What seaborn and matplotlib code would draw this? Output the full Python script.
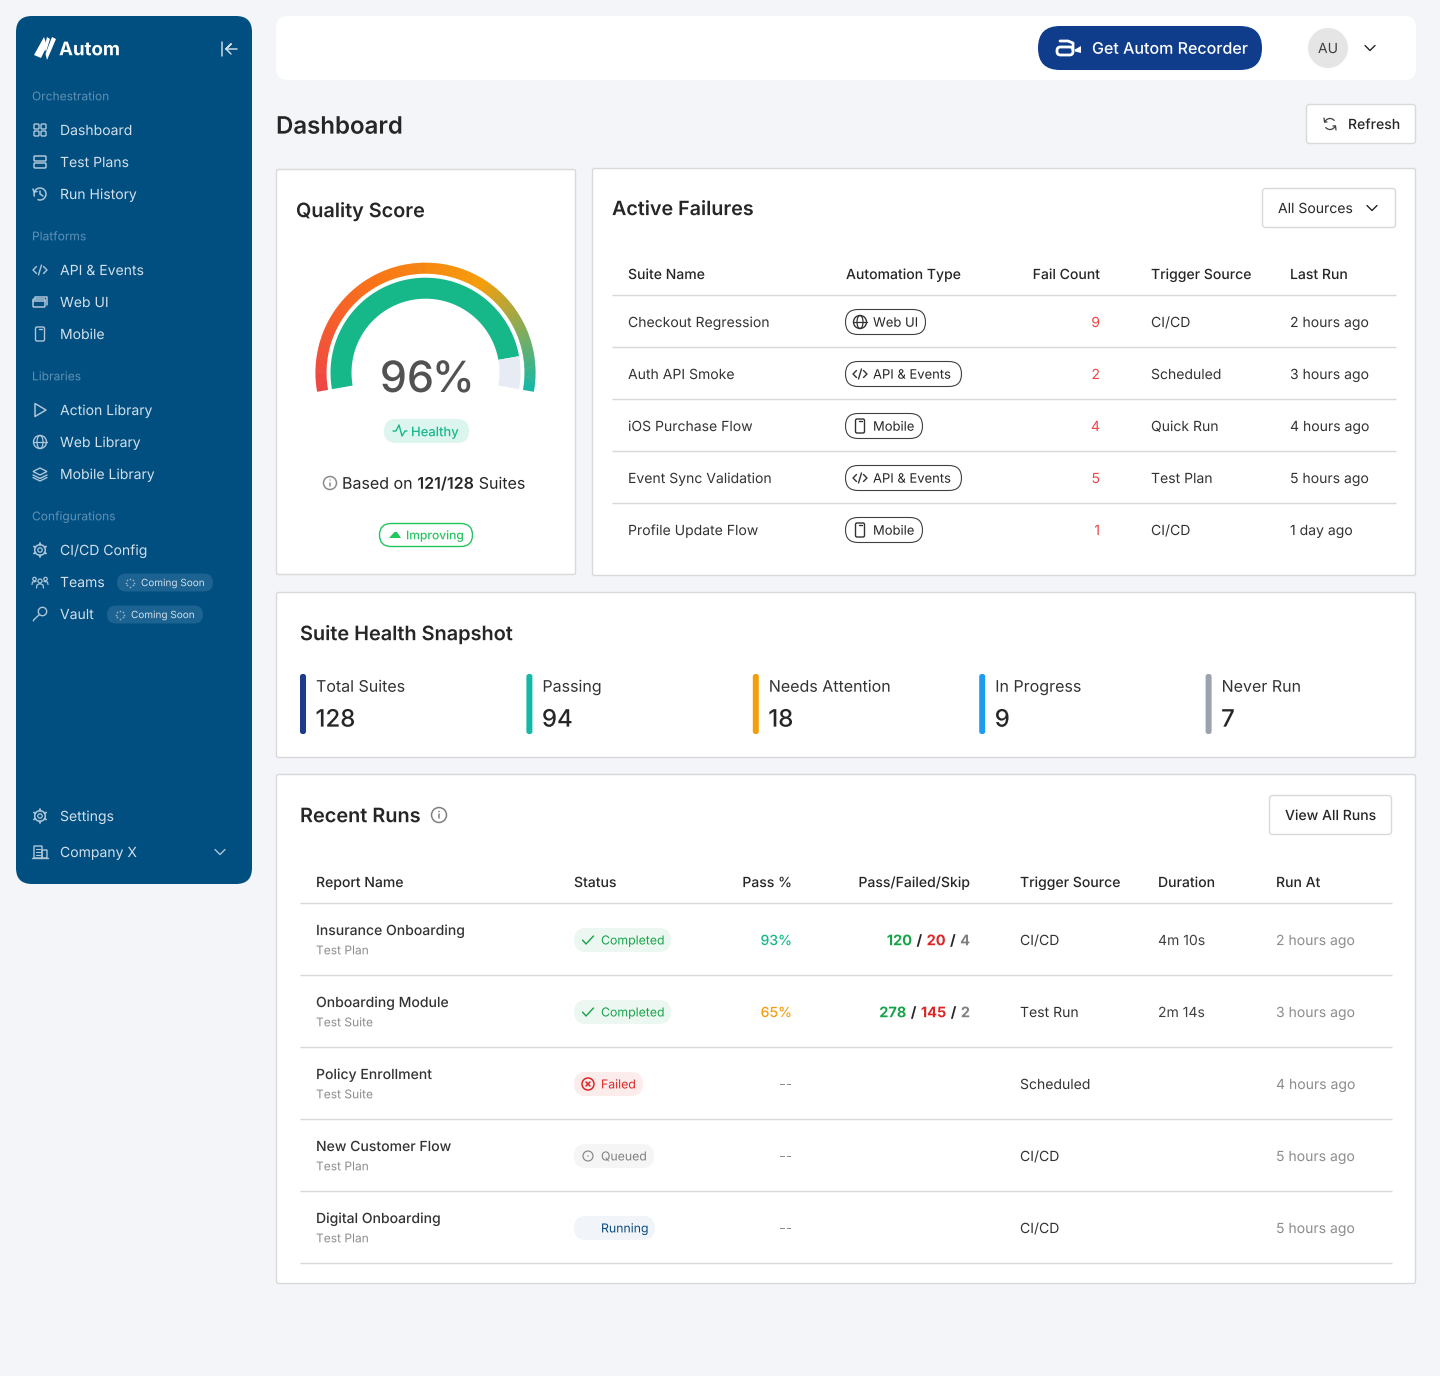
"""
Autom dashboard screenshot rebuilt on a single pixel-scaled axes
"""
import numpy as np
import matplotlib
matplotlib.use('Agg')
import matplotlib.pyplot as plt
import matplotlib.patheffects as pe
import seaborn as sns
from matplotlib.patches import FancyBboxPatch, Circle, Ellipse, Polygon

sns.set_theme(style='white')
plt.rcParams['font.family'] = ['Inter', 'DejaVu Sans']
plt.rcParams['text.hinting'] = 'none'
plt.rcParams['text.hinting_factor'] = 1

# Sidebar
nav_groups = ['Orchestration', 'Platforms', 'Libraries', 'Configurations']
nav_items = [['Dashboard', 'Test Plans', 'Run History'],
             ['API & Events', 'Web UI', 'Mobile'],
             ['Action Library', 'Web Library', 'Mobile Library'],
             ['CI/CD Config', 'Teams', 'Vault']]
nav_icons = [['grid', 'server', 'history'],
             ['code', 'browser', 'phone'],
             ['play', 'globe', 'layers'],
             ['gear', 'team', 'key']]

# Quality score
score = 96
gauge_fill = 0.90
gauge_colors = ['#ef4444', '#f97316', '#f59e0b', '#14b8a6']

# Active failures
fail_suites = ['Checkout Regression', 'Auth API Smoke', 'iOS Purchase Flow',
               'Event Sync Validation', 'Profile Update Flow']
fail_types = ['Web UI', 'API & Events', 'Mobile', 'API & Events', 'Mobile']
fail_counts = [9, 2, 4, 5, 1]
fail_sources = ['CI/CD', 'Scheduled', 'Quick Run', 'Test Plan', 'CI/CD']
fail_last = ['2 hours ago', '3 hours ago', '4 hours ago', '5 hours ago', '1 day ago']

# Suite health
health_labels = ['Total Suites', 'Passing', 'Needs Attention', 'In Progress', 'Never Run']
health_values = [128, 94, 18, 9, 7]
health_colors = ['#1e3a8a', '#14b8a6', '#f59e0b', '#1e9bf0', '#9ca3af']

# Recent runs
run_names = ['Insurance Onboarding', 'Onboarding Module', 'Policy Enrollment',
             'New Customer Flow', 'Digital Onboarding']
run_kinds = ['Test Plan', 'Test Suite', 'Test Suite', 'Test Plan', 'Test Plan']
run_status = ['Completed', 'Completed', 'Failed', 'Queued', 'Running']
run_pass = [93, 65, None, None, None]
run_counts = [(120, 20, 4), (278, 145, 2), None, None, None]
run_sources = ['CI/CD', 'Test Run', 'Scheduled', 'CI/CD', 'CI/CD']
run_durations = ['4m 10s', '2m 14s', '', '', '']
run_times = ['2 hours ago', '3 hours ago', '4 hours ago', '5 hours ago', '5 hours ago']

BG = '#f3f5f9'
NAVY = '#014e80'
INK = '#262626'
BORDER = '#d9d9d9'
PX = 0.72  # css px to points at dpi 100

fig = plt.figure(figsize=(14.4, 13.76), dpi=100, facecolor=BG)
ax = fig.add_axes([0, 0, 1, 1])
ax.set_xlim(0, 1440)
ax.set_ylim(1376, 0)
ax.axis('off')


def box(x0, y0, x1, y1, r=4, fc='white', ec='none', lw=1.0, z=1):
    ax.add_patch(FancyBboxPatch((x0, y0), x1 - x0, y1 - y0,
                                boxstyle=f'round,pad=0,rounding_size={r}',
                                fc=fc, ec=ec, lw=lw, zorder=z))


def txt(x, y, s, size=14, color=INK, weight='normal', ha='left', z=5):
    # y is the middle of the css line box, which sits 0.36em above the baseline
    # the path effect keeps glyphs at exact sub-pixel positions
    return ax.text(x, y + 0.36 * size, s, fontsize=size * PX, color=color, fontweight=weight,
                   ha=ha, va='baseline', zorder=z, path_effects=[pe.Normal()])


def width_of(t):
    return t.get_window_extent(fig.canvas.get_renderer()).width


def spans(x, y, parts, size=14, right=False, gap=4.0):
    # parts is a list of (text, color, weight) laid out side by side
    if right:
        for s, c, w in reversed(parts):
            t = txt(x, y, s, size, c, w, ha='right')
            x -= width_of(t) + gap
    else:
        for s, c, w in parts:
            t = txt(x, y, s, size, c, w)
            x += width_of(t) + gap


def hline(x0, x1, y, color=BORDER, lw=1.0):
    ax.plot([x0, x1], [y, y], color=color, lw=lw, zorder=3, solid_capstyle='butt')


def line(xs, ys, color, lw=1.1):
    ax.plot(xs, ys, color=color, lw=lw, zorder=6, solid_capstyle='round', solid_joinstyle='round')


def ring(x, y, r, color, lw=1.1, fc='none'):
    ax.add_patch(Circle((x, y), r, fc=fc, ec=color, lw=lw, zorder=6))


def icon(kind, x, y, c, s=1.0):
    # small line glyphs centred on x, y
    if kind == 'grid':
        for dx in (-3.5, 3.5):
            for dy in (-3.5, 3.5):
                box(x + dx - 2.5, y + dy - 2.5, x + dx + 2.5, y + dy + 2.5, 1, 'none', c, 1.0, 6)
    elif kind == 'server':
        box(x - 6, y - 6, x + 6, y - 1, 1, 'none', c, 1.1, 6)
        box(x - 6, y + 1, x + 6, y + 6, 1, 'none', c, 1.1, 6)
    elif kind == 'history':
        a = np.radians(np.linspace(-200, 110, 40))
        line(x + 6 * np.cos(a), y + 6 * np.sin(a), c)
        line([x, x, x + 3], [y - 3, y, y + 2], c)
        line([x - 7, x - 6, x - 3], [y - 5, y - 2, y - 2.5], c)
    elif kind == 'code':
        line([x - 3.5, x - 7, x - 3.5], [y - 3.5, y, y + 3.5], c, 1.0)
        line([x + 3.5, x + 7, x + 3.5], [y - 3.5, y, y + 3.5], c, 1.0)
        line([x + 1.5, x - 1.5], [y - 5, y + 5], c, 1.0)
    elif kind == 'browser':
        box(x - 7, y - 3, x + 5, y + 5, 1, 'none', c, 1.1, 6)
        line([x - 5, x - 5, x + 7, x + 7], [y - 3, y - 5, y - 5, y + 3], c)
        line([x - 7, x + 5], [y - 1, y - 1], c)
    elif kind == 'phone':
        box(x - 4.5, y - 7, x + 4.5, y + 7, 1.5, 'none', c, 1.0, 6)
        line([x - 1.5, x + 1.5], [y - 5, y - 5], c, 1.0)
    elif kind == 'play':
        ax.add_patch(Polygon([(x - 5, y - 6.5), (x + 6, y), (x - 5, y + 6.5)], closed=True,
                             fc='none', ec=c, lw=1.1, zorder=6, joinstyle='round'))
    elif kind == 'globe':
        ring(x, y, 6.5, c, 1.0)
        ax.add_patch(Ellipse((x, y), 6, 13, fc='none', ec=c, lw=0.9, zorder=6))
        line([x - 6.5, x + 6.5], [y, y], c, 0.9)
    elif kind == 'layers':
        ax.add_patch(Polygon([(x, y - 6), (x + 7, y - 2.5), (x, y + 1), (x - 7, y - 2.5)], closed=True,
                             fc='none', ec=c, lw=1.0, zorder=6))
        line([x - 7, x, x + 7], [y + 1, y + 4.5, y + 1], c, 1.0)
        line([x - 7, x, x + 7], [y + 3.5, y + 7, y + 3.5], c, 1.0)
    elif kind == 'gear':
        ring(x, y, 5.3, c, 1.1)
        ring(x, y, 2.2, c, 0.9)
        for ang in np.radians(np.arange(0, 360, 60) + 30):
            line([x + 5.3 * np.cos(ang), x + 7 * np.cos(ang)], [y + 5.3 * np.sin(ang), y + 7 * np.sin(ang)], c, 1.3)
    elif kind == 'team':
        ring(x, y - 1, 2.0, c, 0.9)
        ring(x - 5.5, y - 3, 1.7, c, 0.9)
        ring(x + 5.5, y - 3, 1.7, c, 0.9)
        line([x - 3.5, x - 3, x, x + 3, x + 3.5], [y + 6, y + 3, y + 1.5, y + 3, y + 6], c, 0.9)
        line([x - 8, x - 7.5, x - 4], [y + 2.5, y, y - 0.5], c, 0.9)
        line([x + 8, x + 7.5, x + 4], [y + 2.5, y, y - 0.5], c, 0.9)
    elif kind == 'key':
        ring(x + 2.5, y - 2.5, 4.2, c, 1.0)
        line([x - 0.5, x - 6.5, x - 6.5], [y + 0.5, y + 6, y + 7], c, 1.0)
    elif kind == 'building':
        box(x - 6, y - 6, x + 2, y + 6, 0.5, 'none', c, 1.0, 6)
        box(x + 2, y - 2, x + 7, y + 6, 0.5, 'none', c, 1.0, 6)
        for dy in (-3, 0, 3):
            line([x - 4, x], [y + dy, y + dy], c, 0.8)
        line([x - 8, x + 8], [y + 6, y + 6], c, 1.0)
    elif kind == 'info':
        ring(x, y, 6.5 * s, c, 1.1)
        line([x, x], [y - 0.5 * s, y + 3 * s], c, 1.1)
        ax.add_patch(Circle((x, y - 3 * s), 0.7 * s, fc=c, ec='none', zorder=6))
    elif kind == 'chevron':
        line([x - 5, x, x + 5], [y - 2.5, y + 2.5, y - 2.5], c, 1.0)
    elif kind == 'check':
        line([x - 5.5, x - 2, x + 5.5], [y, y + 4, y - 4], c, 1.0)
    elif kind == 'fail':
        ring(x, y, 6, c, 1.1)
        line([x - 2, x + 2], [y - 2, y + 2], c, 1.1)
        line([x - 2, x + 2], [y + 2, y - 2], c, 1.1)
    elif kind == 'queue':
        ring(x, y, 5, c, 0.8)
        ax.add_patch(Circle((x, y), 0.7, fc=c, ec='none', zorder=6))


# Sidebar
box(16, 16, 252, 884, 16, NAVY)
ax.add_patch(Polygon([(34, 55), (44, 37), (47, 46), (41, 58)], closed=True, fc='white', ec='none', zorder=6))
ax.add_patch(Polygon([(47, 37), (50, 39), (46, 52), (44.5, 47)], closed=True, fc='white', ec='none', zorder=6))
ax.add_patch(Polygon([(52, 37), (56, 39), (47, 60), (45.5, 54)], closed=True, fc='white', ec='none', zorder=6))
txt(59, 48.5, 'Autom', 18.7, 'white', 'bold')
line([222, 222], [42, 56], '#c9d9e5')
line([237, 226, 231, 226, 231], [49, 49, 44, 49, 54], '#c9d9e5')

group_y = [96, 236, 376, 516]
item_c = '#d3e0ea'
icon_c = '#aec6d8'
for gy, group, items, icons in zip(group_y, nav_groups, nav_items, nav_icons):
    txt(32, gy, group, 12, '#5f92b5')
    for k, (item, ic) in enumerate(zip(items, icons)):
        iy = gy + 34 + 32 * k
        icon(ic, 40, iy, icon_c)
        txt(60, iy, item, 14, item_c)
for px0, py, tx in [(117, 582.5, 141), (107, 614.5, 131)]:
    box(px0, py - 9, px0 + 96, py + 9, 9, '#1c6391')
    txt(tx, py, 'Coming Soon', 10, '#d3e0ea')
    a = np.radians(np.arange(0, 360, 45))
    ax.scatter(tx - 11 + 4 * np.cos(a), py + 4 * np.sin(a), s=1.5, color='#8fb3cc', zorder=6, linewidths=0)
icon('gear', 40, 816, icon_c)
txt(60, 816, 'Settings', 14, item_c)
icon('building', 40, 852, icon_c)
txt(60, 852, 'Company X', 14, item_c)
icon('chevron', 220, 852, icon_c)

# Top bar
box(276, 16, 1416, 80, 12)
box(1038, 26, 1262, 70, 22, '#0f3d8c')
box(1057, 47, 1073, 55, 3.5, 'none', 'white', 2.0, 6)
line([1060, 1068, 1073, 1073], [41, 41, 43, 50], 'white', 2.0)
ax.add_patch(Polygon([(1075, 49.5), (1081, 46), (1081, 53), (1075, 51.5)], closed=True, fc='white', ec='none', zorder=6))
txt(1092, 48, 'Get Autom Recorder', 16, 'white', 'medium')
ax.add_patch(Circle((1328, 48), 20, fc='#e5e5e5', ec='none', zorder=2))
txt(1328, 48, 'AU', 14, '#404040', ha='center')
icon('chevron', 1370, 48, INK)

txt(276, 125, 'Dashboard', 24, INK, 'semibold')
box(1306.5, 104.5, 1415.5, 143.5, 3, 'white', BORDER)
a = np.radians(np.linspace(200, 320, 20))
line(1330 + 5.5 * np.cos(a), 124 + 5.5 * np.sin(a), '#404040', 0.9)
line(1330 + 5.5 * np.cos(a + np.pi), 124 + 5.5 * np.sin(a + np.pi), '#404040', 0.9)
line([1324, 1324.5, 1327], [118, 122, 122], '#404040', 0.9)
line([1336, 1335.5, 1333], [130, 126, 126], '#404040', 0.9)
txt(1348, 124, 'Refresh', 14, INK, 'medium')

# Quality score card
box(276.5, 169.5, 575.5, 574.5, 2, 'white', BORDER)
txt(296, 210, 'Quality Score', 19.8, INK, 'semibold')

cx, cy = 425.5, 372.7
start, sweep = 190.0, 200.0
n_seg = 200
ramp = sns.blend_palette(gauge_colors, n_colors=n_seg)
# the amber stop sits about 2/3 of the way round, so the ramp is indexed unevenly
stops = np.interp(np.linspace(0, 1, n_seg), [0, 0.35, 0.66, 1], [0, 1 / 3, 2 / 3, 1])


def arc_poly(a0, a1, r0, r1, n=12):
    th = np.radians(np.linspace(a0, a1, n))
    xs = np.r_[cx + r1 * np.cos(th), cx + r0 * np.cos(th[::-1])]
    ys = np.r_[cy - r1 * np.sin(th), cy - r0 * np.sin(th[::-1])]
    return np.c_[xs, ys]


for k in range(n_seg):
    a0 = start - sweep * k / n_seg
    a1 = start - sweep * (k + 1.3) / n_seg if k < n_seg - 1 else start - sweep
    color = ramp[int(stops[k] * (n_seg - 1))]
    ax.add_patch(Polygon(arc_poly(a0, a1, 99, 110, 3), closed=True, fc=color, ec='none', zorder=3))
split = start - sweep * gauge_fill
ax.add_patch(Polygon(arc_poly(start, split, 74, 95, 80), closed=True, fc='#16b88a', ec='none', zorder=3))
ax.add_patch(Polygon(arc_poly(split, start - sweep, 74, 95, 20), closed=True, fc='#e6ebf4', ec='none', zorder=3))

txt(434, 376.5, f'{score}', 43, '#525252', 'medium', ha='right')
txt(432, 376.5, '%', 43, '#525252', 'medium')
box(384, 419, 469, 443, 12, '#dcf5ee')
line([393, 396, 399, 402, 405, 407], [431, 431, 425, 436, 431, 431], '#16b88a', 1.0)
txt(411, 431.5, 'Healthy', 13, '#16b88a', 'medium')
icon('info', 330, 483, '#8c8c8c', 1.0)
spans(342, 483, [('Based on', INK, 'normal'), ('121/128', INK, 'semibold'), ('Suites', INK, 'normal')], 16, gap=4.8)
box(379.5, 523.5, 472.5, 546.5, 11.5, 'white', '#22c55e')
ax.add_patch(Polygon([(389, 538), (394.5, 532), (397, 532), (401, 538)], closed=True, fc='#22c55e', ec='none', zorder=6))
txt(406, 535, 'Improving', 12, '#22c55e', 'medium')

# Active failures card
box(592.5, 168.5, 1415.5, 575.5, 2, 'white', BORDER)
txt(612, 208, 'Active Failures', 19.7, INK, 'semibold')
box(1262.5, 188.5, 1395.5, 227.5, 3, 'white', BORDER)
txt(1278, 208, 'All Sources', 14, INK)
icon('chevron', 1372, 208, INK)

for x, s, ha in [(628, 'Suite Name', 'left'), (846, 'Automation Type', 'left'), (1100, 'Fail Count', 'right'),
                 (1151, 'Trigger Source', 'left'), (1290, 'Last Run', 'left')]:
    txt(x, 274, s, 14, INK, 'medium', ha=ha)
hline(612, 1396, 294.5)

type_right = {'Web UI': 926, 'API & Events': 962, 'Mobile': 923}
type_icon = {'Web UI': 'globe', 'API & Events': 'code', 'Mobile': 'phone'}
for k, row_y in enumerate([322, 374, 426, 478, 530]):
    if k < 4:
        hline(612, 1396, row_y + 24.5)
    txt(628, row_y, fail_suites[k], 14, '#333333')
    kind = fail_types[k]
    box(845.5, row_y - 12.5, type_right[kind] - 0.5, row_y + 12.5, 12.5, 'white', '#404040', 0.8)
    icon(type_icon[kind], 860, row_y, '#333333')
    txt(873, row_y, kind, 13, INK)
    txt(1100, row_y, str(fail_counts[k]), 14, '#ef4444', ha='right')
    txt(1151, row_y, fail_sources[k], 14, '#333333')
    txt(1290, row_y, fail_last[k], 14, '#333333')

# Suite health card
box(276.5, 592.5, 1415.5, 757.5, 2, 'white', BORDER)
txt(300, 633, 'Suite Health Snapshot', 19.9, INK, 'semibold')
for k, (lab, val, col) in enumerate(zip(health_labels, health_values, health_colors)):
    x = 300 + 226.4 * k
    box(x, 674, x + 6, 734, 2.5, col)
    txt(x + 16, 686, lab, 16, '#333333')
    txt(x + 15.5, 718, str(val), 24, INK, 'medium')

# Recent runs card
box(276.5, 774.5, 1415.5, 1283.5, 2, 'white', BORDER)
txt(300, 815, 'Recent Runs', 19.9, INK, 'semibold')
icon('info', 439, 815, '#808080', 1.15)
box(1269.5, 795.5, 1391.5, 834.5, 3, 'white', BORDER)
txt(1285, 815, 'View All Runs', 14, INK, 'medium')

for x, s, ha in [(316, 'Report Name', 'left'), (574, 'Status', 'left'), (792, 'Pass %', 'right'),
                 (970, 'Pass/Failed/Skip', 'right'), (1020, 'Trigger Source', 'left'),
                 (1158, 'Duration', 'left'), (1276, 'Run At', 'left')]:
    txt(x, 882, s, 14, INK, 'medium', ha=ha)
hline(300, 1392, 902.5)

status_style = {'Completed': (671, '#ebf7f0', '#16a34a', 'check'),
                'Failed': (643, '#fdecec', '#dc2626', 'fail'),
                'Queued': (654, '#f5f5f5', '#808080', 'queue'),
                'Running': (655, '#f1f4f9', '#0a4a7f', None)}
for k, row_y in enumerate([940, 1012, 1084, 1156, 1228]):
    hline(300, 1392, row_y + 34.5)
    txt(316, row_y - 10, run_names[k], 14, '#333333', 'medium')
    txt(316, row_y + 10, run_kinds[k], 12, '#8c8c8c')
    right, bg, fg, ic = status_style[run_status[k]]
    box(574, row_y - 12, right, row_y + 12, 12, bg)
    if ic:
        icon(ic, 588, row_y, fg)
    txt(601, row_y, run_status[k], 12.3, fg)
    if run_pass[k] is None:
        txt(792, row_y, '--', 14, '#8c8c8c', ha='right')
    else:
        col = '#14b88a' if run_pass[k] >= 80 else '#f59e0b'
        txt(792, row_y, f'{run_pass[k]}%', 14, col, 'medium', ha='right')
    if run_counts[k]:
        p, f, sk = run_counts[k]
        spans(970, row_y, [(str(p), '#16a34a', 'bold'), ('/', INK, 'bold'), (str(f), '#dc2626', 'bold'),
                           ('/', INK, 'bold'), (str(sk), '#808080', 'bold')], 14.5, right=True, gap=4.5)
    txt(1020, row_y, run_sources[k], 14, '#333333')
    txt(1158, row_y, run_durations[k], 14, '#404040')
    txt(1276, row_y, run_times[k], 14, '#8c8c8c')

fig.savefig('out.png', dpi=100, facecolor=BG)
plt.close(fig)
